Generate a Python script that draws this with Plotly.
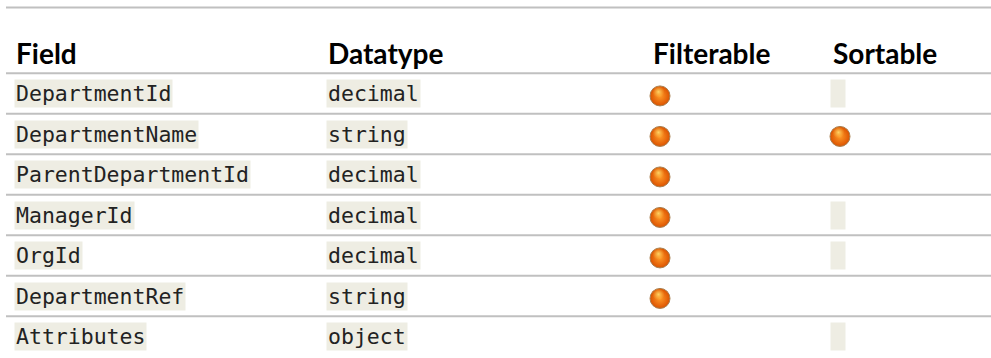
import plotly.graph_objects as go

# ---- data ----
headers = ["Field", "Datatype", "Filterable", "Sortable"]
fields = ["DepartmentId", "DepartmentName", "ParentDepartmentId", "ManagerId",
          "OrgId", "DepartmentRef", "Attributes"]
datatypes = ["decimal", "string", "decimal", "decimal", "decimal", "string", "object"]
filterable = [True, True, True, True, True, True, False]
# "yes" = ball, "blank" = empty code cell, "" = nothing
sortable = ["blank", "yes", "", "blank", "blank", "", "blank"]

# ---- style ----
W, H = 991, 358
ROW_PX = 40.5
ROW0_PX = 93.5
LINE_COLOR = "#c0c0c0"
CODE_BG = "#eeede3"
MONO = "DejaVu Sans Mono, Liberation Mono, monospace"
HEAD = "Lato, Open Sans, sans-serif"
MONO_SIZE = 21.5
HEAD_SIZE = 28

col_x = {"Field": 14, "Datatype": 326, "Filterable": 651, "Sortable": 831}
ball_x = {"Filterable": 660, "Sortable": 840}
BALL_DY = 0.06
HL_DY = -0.1
HL_DX = -1.5

# y axis in row units: pixel = ROW0_PX + ROW_PX * r
y_top = (0 - ROW0_PX) / ROW_PX
y_bot = (H - ROW0_PX) / ROW_PX

fig = go.Figure()
n = len(fields)
rows = list(range(n))

# balls
bx = [ball_x["Filterable"] for r in rows if filterable[r]] + \
     [ball_x["Sortable"] for r in rows if sortable[r] == "yes"]
by = [r for r in rows if filterable[r]] + [r for r in rows if sortable[r] == "yes"]
fig.add_trace(go.Scatter(
    x=bx, y=[v + BALL_DY for v in by], mode="markers", hoverinfo="skip",
    marker=dict(size=20, color="#dc5200",
                gradient=dict(type="radial", color="#ff9a28"),
                line=dict(color="#a88050", width=1)),
))
fig.add_trace(go.Scatter(
    x=[v + HL_DX for v in bx], y=[v + BALL_DY + HL_DY for v in by], mode="markers",
    hoverinfo="skip",
    marker=dict(size=12, color="rgba(255,190,70,0)",
                gradient=dict(type="radial", color="rgba(255,220,110,0.9)"),
                line=dict(width=0)),
))

annotations = []
# headers
for h in headers:
    annotations.append(dict(x=col_x[h], y=-0.99, xref="x", yref="y", text=f"<b>{h}</b>",
                            showarrow=False, xanchor="left", yanchor="middle",
                            font=dict(family=HEAD, size=HEAD_SIZE, color="#000")))
for r in rows:
    annotations.append(dict(x=col_x["Field"], y=r, xref="x", yref="y", text=fields[r],
                            showarrow=False, xanchor="left", yanchor="middle",
                            bgcolor=CODE_BG, borderpad=1,
                            font=dict(family=MONO, size=MONO_SIZE, color="#222")))
    annotations.append(dict(x=col_x["Datatype"], y=r, xref="x", yref="y", text=datatypes[r],
                            showarrow=False, xanchor="left", yanchor="middle",
                            bgcolor=CODE_BG, borderpad=1,
                            font=dict(family=MONO, size=MONO_SIZE, color="#222")))
    if sortable[r] == "blank":
        annotations.append(dict(x=col_x["Sortable"] - 1, y=r, xref="x", yref="y", text="&nbsp;",
                                showarrow=False, xanchor="left", yanchor="middle",
                                bgcolor=CODE_BG, borderpad=1, width=12,
                                font=dict(family=MONO, size=MONO_SIZE, color="#222")))

shapes = []
line_rows = [-2.123] + [r - 0.5 for r in rows]
for ly in line_rows:
    shapes.append(dict(type="line", xref="x", yref="y", x0=6, x1=W, y0=ly, y1=ly,
                       line=dict(color=LINE_COLOR, width=2), layer="below"))

fig.update_layout(
    width=W, height=H, margin=dict(l=0, r=0, t=0, b=0),
    paper_bgcolor="white", plot_bgcolor="white", showlegend=False,
    xaxis=dict(range=[0, W], visible=False, fixedrange=True),
    yaxis=dict(range=[y_bot, y_top], visible=False, fixedrange=True),
    annotations=annotations, shapes=shapes,
)
fig.write_html("out.html", config={"displayModeBar": False},
               post_script="document.body.style.margin='0';document.body.style.overflow='hidden';")
